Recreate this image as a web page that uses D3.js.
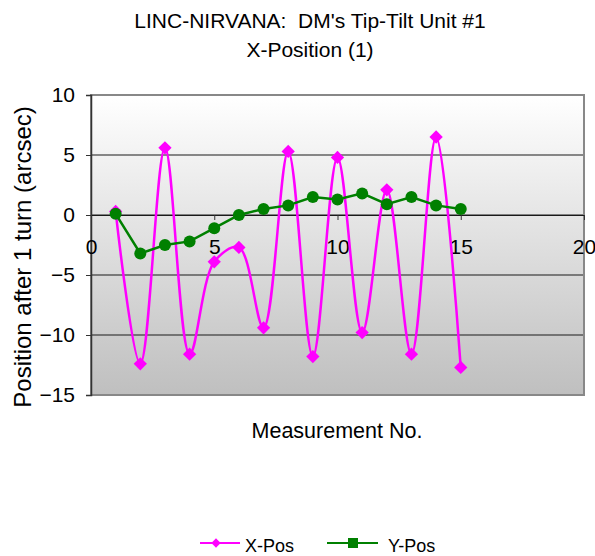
<!DOCTYPE html>
<html>
<head>
<meta charset="utf-8">
<script src="https://cdn.jsdelivr.net/npm/d3@7"></script>
<style>
  body { margin: 0; background: #fff; }
  text { font-family: "Liberation Sans", Arial, sans-serif; fill: #000; }
</style>
</head>
<body>
<div id="chart"></div>
<script>
// Measurement numbers
const measurements = [1, 2, 3, 4, 5, 6, 7, 8, 9, 10, 11, 12, 13, 14, 15];
// X-Pos series (arcsec)
const xPos = [0.3, -12.4, 5.6, -11.6, -3.9, -2.7, -9.4, 5.3, -11.8, 4.8, -9.8, 2.1, -11.6, 6.5, -12.7];
// Y-Pos series (arcsec)
const yPos = [0.1, -3.2, -2.5, -2.2, -1.1, 0.0, 0.5, 0.8, 1.5, 1.3, 1.8, 0.9, 1.5, 0.8, 0.5];
const xTicks = [0, 5, 10, 15, 20];
const yTicks = [10, 5, 0, -5, -10, -15];

const W = 595, H = 556;
const plot = {left: 91, right: 584, top: 95, bottom: 395};

const svg = d3.select("#chart").append("svg")
    .attr("width", W)
    .attr("height", H);

const x = d3.scaleLinear().domain([0, 20]).range([plot.left, plot.right]);
const y = d3.scaleLinear().domain([-15, 10]).range([plot.bottom, plot.top]);

// Background gradient
const defs = svg.append("defs");
const grad = defs.append("linearGradient")
    .attr("id", "bg")
    .attr("x1", 0).attr("y1", 0).attr("x2", 0).attr("y2", 1);
grad.append("stop").attr("offset", "0%").attr("stop-color", "#ffffff");
grad.append("stop").attr("offset", "100%").attr("stop-color", "#bfbfbf");

svg.append("rect")
    .attr("x", plot.left)
    .attr("y", plot.top)
    .attr("width", plot.right - plot.left)
    .attr("height", plot.bottom - plot.top)
    .attr("fill", "url(#bg)");

// Gridlines
svg.append("g")
    .selectAll("line")
    .data(yTicks.filter(d => d !== 10 && d !== -15))
    .join("line")
    .attr("x1", plot.left)
    .attr("x2", plot.right)
    .attr("y1", d => y(d))
    .attr("y2", d => y(d))
    .attr("stroke", "#1a1a1a")
    .attr("stroke-width", 1);

// Plot border
svg.append("rect")
    .attr("x", plot.left)
    .attr("y", plot.top)
    .attr("width", plot.right - plot.left)
    .attr("height", plot.bottom - plot.top)
    .attr("fill", "none")
    .attr("stroke", "#888")
    .attr("stroke-width", 2);

// Y axis
const yAxis = svg.append("g")
    .attr("transform", `translate(${plot.left},0)`)
    .call(d3.axisLeft(y).tickValues(yTicks).tickSize(5).tickPadding(11));
yAxis.select(".domain").attr("stroke", "#333").attr("stroke-width", 1.5);
yAxis.selectAll(".tick line").attr("stroke", "#333");
yAxis.selectAll("text")
    .style("font-family", "Liberation Sans, Arial, sans-serif")
    .style("font-size", "21px");

// X axis at y = 0
const xAxis = svg.append("g")
    .attr("transform", `translate(0,${y(0)})`)
    .call(d3.axisBottom(x).tickValues(xTicks).tickSize(5).tickPadding(19));
xAxis.select(".domain").attr("stroke", "#1a1a1a");
xAxis.selectAll(".tick line").attr("stroke", "#333");
xAxis.selectAll("text")
    .style("font-family", "Liberation Sans, Arial, sans-serif")
    .style("font-size", "21px");

// Title
svg.append("text")
    .attr("x", 310)
    .attr("y", 28)
    .attr("text-anchor", "middle")
    .style("font-size", "21px")
    .text("LINC-NIRVANA:\u00a0 DM's Tip-Tilt Unit #1");
svg.append("text")
    .attr("x", 310)
    .attr("y", 57)
    .attr("text-anchor", "middle")
    .style("font-size", "21px")
    .text("X-Position (1)");

// Axis labels
svg.append("text")
    .attr("x", 337)
    .attr("y", 438)
    .attr("text-anchor", "middle")
    .style("font-size", "21.5px")
    .text("Measurement No.");
svg.append("text")
    .attr("transform", "translate(31,257) rotate(-90)")
    .attr("text-anchor", "middle")
    .style("font-size", "24px")
    .text("Position after 1 turn (arcsec)");

const xData = measurements.map((m, i) => ({m, v: xPos[i]}));
const yData = measurements.map((m, i) => ({m, v: yPos[i]}));

// X-Pos smoothed line
const smooth = d3.line()
    .x(d => x(d.m))
    .y(d => y(d.v))
    .curve(d3.curveCatmullRom.alpha(0.5));
svg.append("path")
    .datum(xData)
    .attr("fill", "none")
    .attr("stroke", "#ff00ff")
    .attr("stroke-width", 2.5)
    .attr("d", smooth);

const diamond = d3.symbol().type(d3.symbolDiamond2).size(112);
svg.append("g")
    .selectAll("path")
    .data(xData)
    .join("path")
    .attr("transform", d => `translate(${x(d.m)},${y(d.v)})`)
    .attr("d", diamond)
    .attr("fill", "#ff00ff");

// Y-Pos straight line
const straight = d3.line()
    .x(d => x(d.m))
    .y(d => y(d.v));
svg.append("path")
    .datum(yData)
    .attr("fill", "none")
    .attr("stroke", "#008000")
    .attr("stroke-width", 2.5)
    .attr("d", straight);

svg.append("g")
    .selectAll("circle")
    .data(yData)
    .join("circle")
    .attr("cx", d => x(d.m))
    .attr("cy", d => y(d.v))
    .attr("r", 6)
    .attr("fill", "#008000");

// Legend
const legend = svg.append("g").attr("transform", "translate(0,543)");
legend.append("line")
    .attr("x1", 200).attr("x2", 240)
    .attr("stroke", "#ff00ff").attr("stroke-width", 2);
legend.append("path")
    .attr("transform", "translate(216,0)")
    .attr("d", d3.symbol().type(d3.symbolDiamond2).size(55))
    .attr("fill", "#ff00ff");
legend.append("text")
    .attr("x", 245).attr("y", 9)
    .style("font-size", "18px")
    .text("X-Pos");
legend.append("line")
    .attr("x1", 327).attr("x2", 378)
    .attr("stroke", "#008000").attr("stroke-width", 2);
legend.append("rect")
    .attr("x", 348).attr("y", -5)
    .attr("width", 10).attr("height", 10)
    .attr("fill", "#008000");
legend.append("text")
    .attr("x", 388).attr("y", 9)
    .style("font-size", "18px")
    .text("Y-Pos");
</script>
</body>
</html>
